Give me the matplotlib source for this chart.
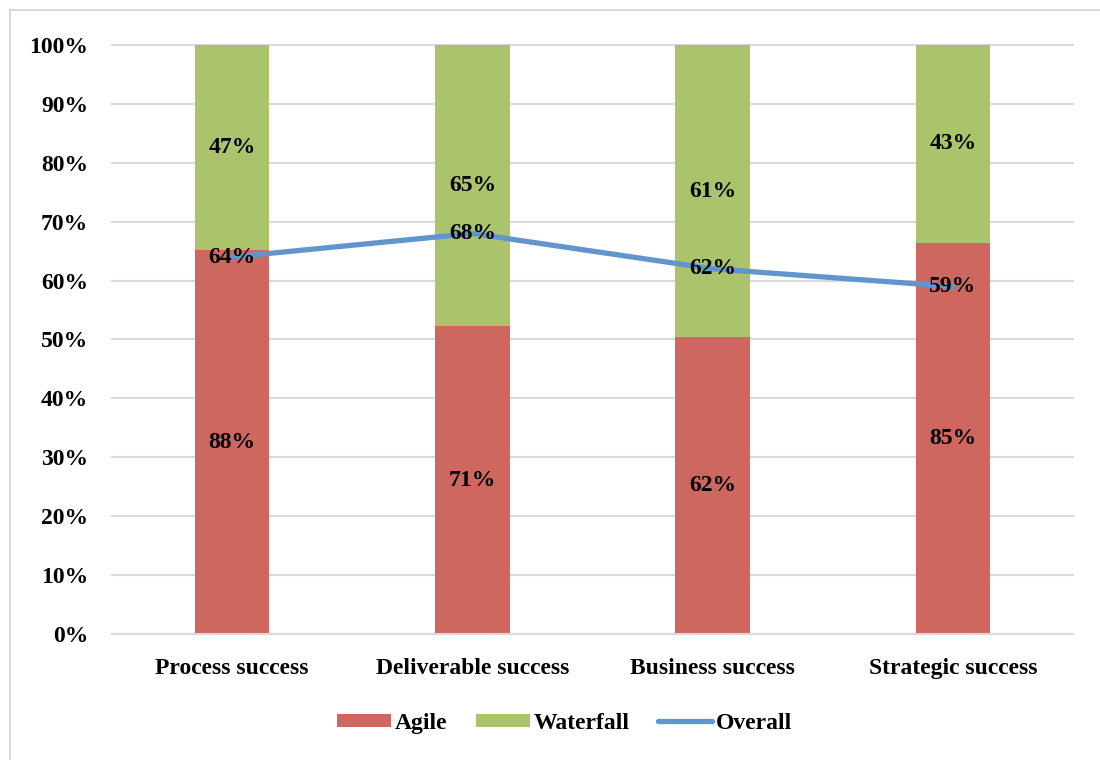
import numpy as np
import matplotlib.pyplot as plt
from matplotlib.patches import Rectangle
from matplotlib.ticker import PercentFormatter

categories = ["Process success", "Deliverable success", "Business success", "Strategic success"]
agile = [88, 71, 62, 85]
waterfall = [47, 65, 61, 43]
overall = [64, 68, 62, 59]

plt.rcParams["font.family"] = ["Liberation Serif", "DejaVu Serif"]
plt.rcParams["font.weight"] = "bold"

C_AGILE = "#CD675F"
C_WATER = "#ABC46B"
C_LINE = "#6096CB"
FS = 17

fig = plt.figure(figsize=(11, 7.6), dpi=100)
ax = fig.add_axes([0.1018, 0.1658, 0.8737, 0.775])

x = np.arange(len(categories))
total = np.array(agile) + np.array(waterfall)
agile_share = np.array(agile) / total * 100
water_share = np.array(waterfall) / total * 100

w = 0.31
h1 = ax.bar(x, agile_share, w, color=C_AGILE, label="Agile", zorder=2)
h2 = ax.bar(x, water_share, w, bottom=agile_share, color=C_WATER, label="Waterfall", zorder=2)
h3, = ax.plot(x, overall, color=C_LINE, lw=3.8, solid_capstyle="round", label="Overall", zorder=3)

for i in range(len(x)):
    ax.text(x[i], agile_share[i] / 2, f"{agile[i]}%", ha="center", va="center",
            fontsize=FS, fontweight="bold", zorder=4)
    ax.text(x[i], agile_share[i] + water_share[i] / 2, f"{waterfall[i]}%", ha="center",
            va="center", fontsize=FS, fontweight="bold", zorder=4)
    ax.text(x[i], overall[i], f"{overall[i]}%", ha="center", va="center",
            fontsize=FS, fontweight="bold", zorder=4)

ax.set_xlim(-0.5, len(x) - 0.5)
ax.set_ylim(0, 100)
ax.set_yticks(np.arange(0, 101, 10))
ax.yaxis.set_major_formatter(PercentFormatter(decimals=0))
ax.set_xticks(x)
ax.set_xticklabels(categories)
ax.tick_params(axis="both", length=0, labelsize=FS)
ax.tick_params(axis="y", pad=17)
ax.tick_params(axis="x", pad=17)
for lbl in ax.get_xticklabels() + ax.get_yticklabels():
    lbl.set_fontweight("bold")
ax.grid(axis="y", color="#D9D9D9", lw=1.5, zorder=0)
for gl in ax.get_ygridlines():
    gl.set_clip_on(False)
for s in ["top", "right", "left"]:
    ax.spines[s].set_visible(False)
ax.spines["bottom"].set_color("#D9D9D9")
ax.spines["bottom"].set_linewidth(1.5)

fig.legend([h1, h2, h3], ["Agile", "Waterfall", "Overall"], loc="center",
           bbox_to_anchor=(0.513, 0.048), ncol=3, frameon=False,
           prop={"size": FS, "weight": "bold"}, handlelength=2.3, handleheight=0.5,
           columnspacing=1.2, handletextpad=0.15)

# outer frame: only left and top edges fall inside the picture
fig.patches.append(Rectangle((0.009, -0.2), 1.5, 1.187, transform=fig.transFigure,
                             fill=False, edgecolor="#D9D9D9", lw=1.5))

fig.savefig("out.png", dpi=100)
